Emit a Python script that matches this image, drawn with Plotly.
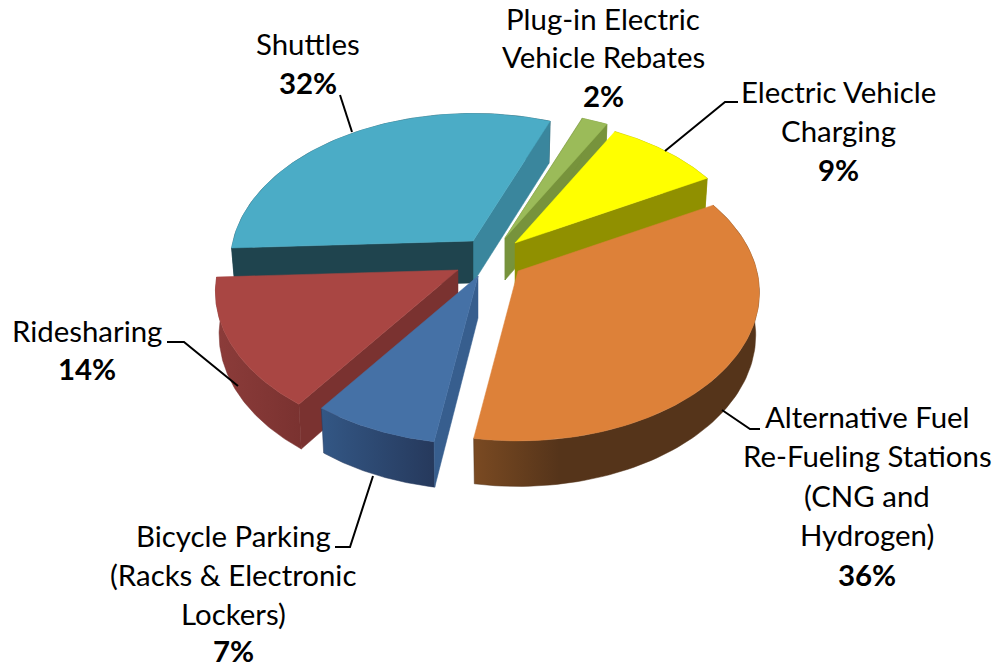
import numpy as np
import plotly.graph_objects as go

# ---- chart data ----
CATEGORIES = ["Alternative Fuel Re-Fueling Stations (CNG and Hydrogen)",
              "Bicycle Parking (Racks & Electronic Lockers)",
              "Ridesharing", "Shuttles",
              "Plug-in Electric Vehicle Rebates", "Electric Vehicle Charging"]
VALUES = [35.6, 7.4, 14.3, 31.7, 2, 9]

# ---- geometry / style ----
TIPS = [(518, 271), (478, 276), (458, 270), (473, 241), (505, 238), (515, 243)]
RADIUS_SCALE = [0.995, 0.985, 1.0, 1.0, 1.0, 0.98]
START_DEG = 29.0
RX, RY, PERSP, DEPTH, DEPTH_FRONT, BOTTOM_SCALE = 240.0, 146.0, 0.145, 42.0, 3.5, 0.985
TOP = ["#DD8139", "#4571A6", "#A94643", "#4BACC6", "#9BBB59", "#FFFF00"]
WALL = [("#7A4A22", "#55341A"), ("#335785", "#26395C"), ("#8C3C3A", "#7A3230"),
        ("#1F444E", "#1F444E"), ("#77933C", "#77933C"), ("#909000", "#909000")]
WALL_STOP = [0.3, 1.0, 1.0, 1.0, 1.0, 1.0]
FACE_START = [None, "#375E8E", "#7A3230", "#1F444E", "#77933C", None]
FACE_END = [None, None, None, "#3A869D", "#77933C", "#909000"]
DRAW_ORDER = [3, 4, 5, 2, 1, 0]

LABEL_LINES = [
    [("Alternative Fuel", 867, 416.5), ("Re-Fueling Stations", 867, 455.5),
     ("(CNG and", 867, 495.5), ("Hydrogen)", 867, 534.5), (None, 867, 574.5)],
    [("Bicycle Parking", 233, 535.5), ("(Racks & Electronic", 233, 574.5),
     ("Lockers)", 233, 613.5), (None, 233, 650)],
    [("Ridesharing", 87, 330.5), (None, 87, 368.5)],
    [("Shuttles", 308, 43.5), (None, 308, 82.5)],
    [("Plug-in Electric", 603, 18.5), ("Vehicle Rebates", 603, 56.5), (None, 603, 95.5)],
    [("Electric Vehicle", 838, 91.5), ("Charging", 838, 130.5), (None, 838, 169.5)],
]
LEADERS = ["M 340 95 L 352 132", "M 665 151 L 725 102 L 738 102",
           "M 722 410 L 750 429 L 760 429", "M 167 342 L 184 342 L 238 386",
           "M 373 476 L 350 547 L 335 547"]
FONT, FONT_SIZE = "Lato", 29.4


def project(tip, theta_deg, scale=1.0, drop=False):
    t = np.radians(theta_deg)
    X, Y = np.cos(t), np.sin(t)
    f = scale / (1.0 + PERSP * Y)
    dx, dy = RX * X * f, -RY * Y * f
    if drop:
        return tip[0] + dx * BOTTOM_SCALE, tip[1] + dy + DEPTH + DEPTH_FRONT * max(-Y, 0.0)
    return tip[0] + dx, tip[1] + dy


def poly(fig, xs, ys, color, gradient=None, stop=1.0):
    kw = dict(x=list(xs) + [xs[0]], y=list(ys) + [ys[0]], mode="lines", fill="toself",
              line=dict(color=color, width=0.5), hoverinfo="skip", showlegend=False)
    if gradient:
        scale = [[0, gradient[0]], [stop, gradient[1]]]
        if stop < 1:
            scale.append([1, gradient[1]])
        kw["fillgradient"] = dict(type="horizontal", colorscale=scale)
    else:
        kw["fillcolor"] = color
    fig.add_trace(go.Scatter(**kw))


total = sum(VALUES)
spans = [v / total * 360 for v in VALUES]
starts = [START_DEG - sum(spans[:i]) for i in range(len(VALUES))]

fig = go.Figure()
for i in DRAW_ORDER:
    tip, a0, a1, s = TIPS[i], starts[i], starts[i] - spans[i], RADIUS_SCALE[i]
    th = np.linspace(a0, a1, 90)
    top = [project(tip, a, s) for a in th]
    low = [project(tip, a, s, True) for a in th]
    # outer wall
    pts = top + low[::-1]
    poly(fig, [p[0] for p in pts], [p[1] for p in pts], WALL[i][1], gradient=WALL[i], stop=WALL_STOP[i])
    # cut faces
    tip_low = (tip[0], tip[1] + DEPTH)
    if FACE_END[i]:
        pts = [tip, top[-1], low[-1], tip_low]
        poly(fig, [p[0] for p in pts], [p[1] for p in pts], FACE_END[i])
    if FACE_START[i]:
        pts = [tip, top[0], low[0], tip_low]
        poly(fig, [p[0] for p in pts], [p[1] for p in pts], FACE_START[i])
    # top face
    pts = [tip] + top
    poly(fig, [p[0] for p in pts], [p[1] for p in pts], TOP[i])

for lines, v in zip(LABEL_LINES, VALUES):
    for text, x, y in lines:
        fig.add_annotation(x=x, y=y, xref="x", yref="y", showarrow=False,
                           xanchor="center", yanchor="middle",
                           text=text if text else f"<b>{round(v)}%</b>",
                           font=dict(family=FONT, size=FONT_SIZE, color="black"))

for p in LEADERS:
    fig.add_shape(type="path", path=p, xref="x", yref="y",
                  line=dict(color="black", width=2), layer="above")

fig.update_layout(width=997, height=668, margin=dict(l=0, r=0, t=0, b=0),
                  paper_bgcolor="white", plot_bgcolor="white", showlegend=False,
                  xaxis=dict(range=[0, 997], visible=False),
                  yaxis=dict(range=[668, 0], visible=False))
fig.write_html("out.html", config={"displayModeBar": False},
               post_script="document.body.style.margin='0';")
